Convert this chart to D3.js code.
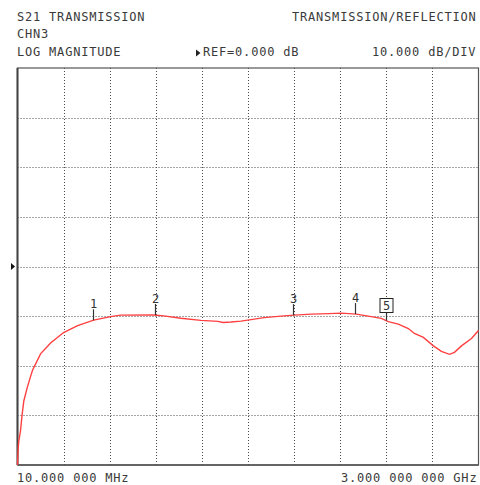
<!DOCTYPE html>
<html><head><meta charset="utf-8">
<script src="https://cdn.jsdelivr.net/npm/d3@7"></script>
<style>
html,body{margin:0;padding:0;background:#fff;}
svg{display:block;}
text{font-family:"DejaVu Sans Mono",monospace;font-size:12px;fill:#3a3a3a;letter-spacing:0.8px;}
</style></head>
<body>
<script>
// Trace data: frequency (MHz) and S21 magnitude (dB)
const freqMHz = [10, 14.5, 18.5, 29.5, 40.5, 51, 73, 94.5, 107.5, 159.5, 224.5, 309, 400, 504, 614.5, 679.5, 894, 959, 1069.5, 1199.5, 1310, 1342.5, 1394.5, 1459.5, 1524.5, 1609, 1719.5, 1804, 1914.5, 2031.5, 2109.5, 2207, 2304.5, 2369.5, 2415, 2480, 2545, 2584, 2642.5, 2707.5, 2759.5, 2811.5, 2844, 2889.5, 2954.5, 3000];
const magDB = [-40, -36.6, -35.2, -33.1, -29.7, -27.1, -24.4, -22.2, -20.9, -17.6, -15.4, -13.3, -11.9, -10.8, -10.1, -9.8, -9.76, -9.96, -10.44, -10.85, -11.05, -11.27, -11.17, -11.0, -10.7, -10.3, -10.0, -9.8, -9.6, -9.5, -9.4, -9.6, -10.1, -10.44, -11.1, -11.6, -12.5, -13.5, -14.3, -16.0, -17.1, -17.7, -17.3, -16.0, -14.5, -12.9];
const markerIds = ["1", "2", "3", "4", "5"];
const markerFreqMHz = [500, 900, 1800, 2200, 2400];
const yGridDB = [-30, -20, -10, 0, 10, 20, 30];
const xDivisions = [1, 2, 3, 4, 5, 6, 7, 8, 9];
const startLabel = "10.000 000 MHz";
const stopLabel = "3.000 000 000 GHz";

const W = 480, H = 485;
const svg = d3.select("body").append("svg").attr("width", W).attr("height", H);

const x = d3.scaleLinear().domain([10, 3000]).range([17.5, 478.5]);
const y = d3.scaleLinear().domain([-40, 40]).range([465, 68]);

// header texts
function txt(s, xx, yy) { return svg.append("text").attr("x", xx).attr("y", yy).text(s); }
txt("S21 TRANSMISSION", 17, 21);
txt("CHN3", 17, 38);
txt("LOG MAGNITUDE", 17, 56);
txt("TRANSMISSION/REFLECTION", 292, 21);
txt("REF=0.000 dB", 203, 56);
txt("10.000 dB/DIV", 372, 56);
svg.append("path").attr("d", "M196,49.5 L200.5,53 L196,56.5 Z").attr("fill", "#222");

// grid
const xr = x.domain();
const g = svg.append("g");
g.selectAll(".vg").data(xDivisions).enter().append("line")
  .attr("x1", d => Math.round(x(xr[0] + (xr[1] - xr[0]) * d / 10)) + 0.5)
  .attr("x2", d => Math.round(x(xr[0] + (xr[1] - xr[0]) * d / 10)) + 0.5)
  .attr("y1", y(40)).attr("y2", y(-40))
  .attr("stroke", "#4a4a4a").attr("stroke-width", 1).attr("stroke-dasharray", "1,2");
g.selectAll(".hg").data(yGridDB).enter().append("line")
  .attr("y1", d => Math.round(y(d)) + 0.5).attr("y2", d => Math.round(y(d)) + 0.5)
  .attr("x1", x(10)).attr("x2", x(3000))
  .attr("stroke", "#4a4a4a").attr("stroke-width", 1).attr("stroke-dasharray", "1,2");

// border
svg.append("rect").attr("x", x(10)).attr("y", y(40))
  .attr("width", x(3000) - x(10)).attr("height", y(-40) - y(40))
  .attr("fill", "none").attr("stroke", "#555").attr("stroke-width", 1.2);
svg.append("line").attr("x1", x(10)).attr("x2", x(10)).attr("y1", y(40)).attr("y2", y(-40))
  .attr("stroke", "#444").attr("stroke-width", 2);
svg.append("line").attr("x1", x(10)).attr("x2", x(3000)).attr("y1", y(-40)).attr("y2", y(-40))
  .attr("stroke", "#555").attr("stroke-width", 1.6);

// reference arrow
svg.append("path").attr("d", `M11,${y(0)-3.5} L15,${y(0)} L11,${y(0)+3.5} Z`).attr("fill", "#111");

// trace
const data = freqMHz.map((f, i) => [f, magDB[i]]);
svg.append("path").datum(data)
  .attr("d", d3.line().x(d => x(d[0])).y(d => y(d[1])))
  .attr("fill", "none").attr("stroke", "#ff4040").attr("stroke-width", 1.4);

// markers
const interp = f => {
  const i = d3.bisectLeft(freqMHz, f);
  if (i <= 0) return magDB[0];
  const f0 = freqMHz[i - 1], f1 = freqMHz[i];
  const t = (f - f0) / (f1 - f0);
  return magDB[i - 1] + t * (magDB[i] - magDB[i - 1]);
};
markerIds.forEach((id, i) => {
  const mx = Math.round(x(markerFreqMHz[i])) + 0.5;
  const my = y(interp(markerFreqMHz[i]));
  const active = i === markerIds.length - 1;
  const tickLen = active ? 8 : 11;
  svg.append("line").attr("x1", mx).attr("x2", mx).attr("y1", my).attr("y2", my - tickLen)
    .attr("stroke", "#333").attr("stroke-width", 1.2);
  if (active) {
    svg.append("rect").attr("x", mx - 6.5).attr("y", my - tickLen - 14).attr("width", 13).attr("height", 14)
      .attr("fill", "#fff").attr("stroke", "#222").attr("stroke-width", 1);
  }
  svg.append("text").attr("x", mx).attr("y", my - tickLen - (active ? 2.5 : 1.5))
    .attr("text-anchor", "middle").style("letter-spacing", "0px").style("fill", "#333").text(id);
});

// footer
txt(startLabel, 17, 482);
txt(stopLabel, 341, 482);
</script>
</body></html>
